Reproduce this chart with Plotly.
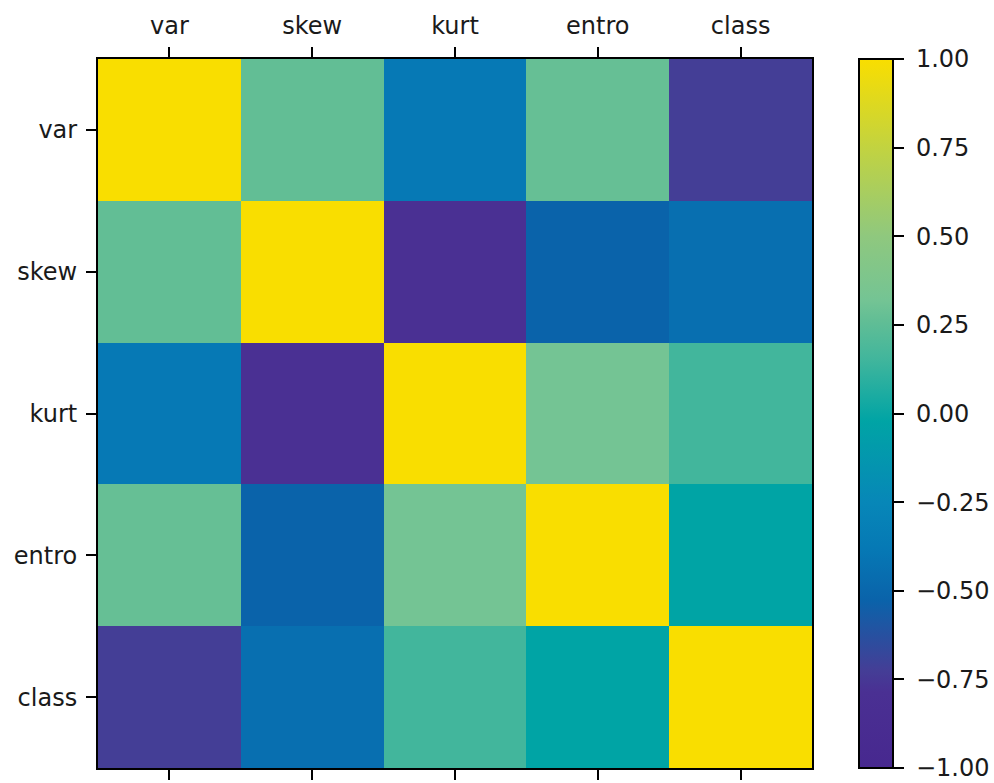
import plotly.graph_objects as go

# Correlation matrix of the banknote features
labels = ["var", "skew", "kurt", "entro", "class"]
corr = [
    [1.000, 0.264, -0.381, 0.277, -0.725],
    [0.264, 1.000, -0.787, -0.526, -0.445],
    [-0.381, -0.787, 1.000, 0.319, 0.155],
    [0.277, -0.526, 0.319, 1.000, -0.023],
    [-0.725, -0.445, 0.155, -0.023, 1.000],
]
cbar_ticks = [-1.0, -0.75, -0.5, -0.25, 0.0, 0.25, 0.5, 0.75, 1.0]
cbar_text = ["\u00a0" + f"{v:.2f}".replace("-", "\u2212") for v in cbar_ticks]

# purple -> blue -> teal -> mint -> yellow colour map
colorscale = [
    [0.000, "#47288f"],
    [0.107, "#4a3093"],
    [0.138, "#443e96"],
    [0.237, "#0a63aa"],
    [0.310, "#0679b5"],
    [0.375, "#0787b8"],
    [0.489, "#00a4a5"],
    [0.578, "#42b69c"],
    [0.632, "#62be95"],
    [0.660, "#74c494"],
    [0.750, "#8fc87e"],
    [0.875, "#c2d340"],
    [1.000, "#f9de00"],
]

FONT = dict(family="DejaVu Sans", size=24, color="#1a1a1a")

fig = go.Figure(
    go.Heatmap(
        z=corr,
        x=labels,
        y=labels,
        colorscale=colorscale,
        zmin=-1,
        zmax=1,
        showscale=True,
        colorbar=dict(
            x=(859 - 98) / 714,
            xanchor="left",
            xpad=0,
            y=0.5,
            yanchor="middle",
            len=1,
            lenmode="fraction",
            ypad=0,
            thickness=34,
            thicknessmode="pixels",
            outlinewidth=2,
            outlinecolor="black",
            tickvals=cbar_ticks,
            ticktext=cbar_text,
            ticks="outside",
            ticklen=10,
            tickwidth=1.5,
            tickcolor="black",
            tickfont=FONT,
        ),
    )
)

fig.update_xaxes(
    side="top",
    showline=True,
    linecolor="black",
    linewidth=2,
    mirror="ticks",
    ticks="outside",
    ticklen=10,
    tickwidth=1.5,
    tickcolor="black",
    tickfont=FONT,
    ticklabelstandoff=3,
    showgrid=False,
    zeroline=False,
)
fig.update_yaxes(
    autorange="reversed",
    showline=True,
    linecolor="black",
    linewidth=2,
    mirror=True,
    ticks="outside",
    ticklen=10,
    tickwidth=1.5,
    tickcolor="black",
    tickfont=FONT,
    ticklabelstandoff=4,
    showgrid=False,
    zeroline=False,
)

fig.update_layout(
    width=994,
    height=783,
    margin=dict(l=98, r=182, t=59, b=15, autoexpand=False),
    paper_bgcolor="white",
    plot_bgcolor="white",
    font=FONT,
)

fig.write_html("out.html")
